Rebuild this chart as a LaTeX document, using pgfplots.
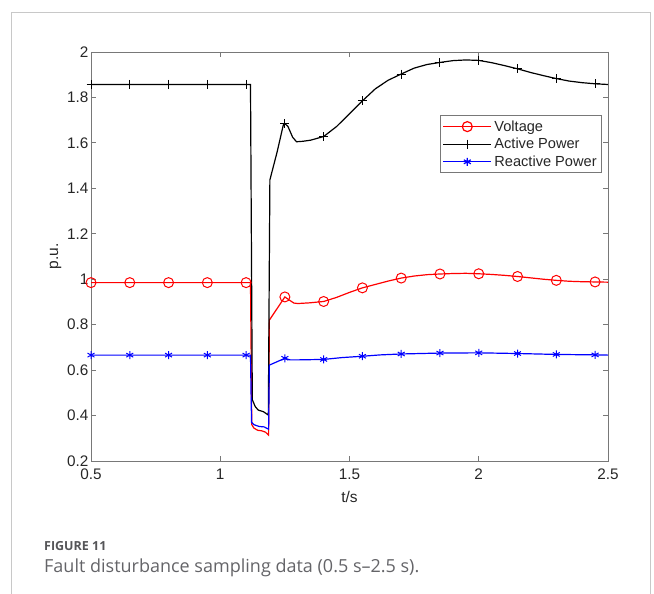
\documentclass[border=0pt]{standalone}
\usepackage{pgfplots}
\pgfplotsset{compat=1.18}
\usepackage{fontspec}
\setmainfont{Liberation Sans}
\newfontfamily\capfont{Open Sans}

\definecolor{axgray}{RGB}{120,120,120}
\definecolor{txtdark}{RGB}{38,38,38}
\definecolor{capgray}{RGB}{100,100,104}
\definecolor{framegray}{RGB}{200,200,200}

% Active power (p.u.), continuous trace
\pgfplotstableread{
t p
0.5 1.857
0.95 1.857
1.117 1.857
1.124 0.470
1.135 0.440
1.147 0.424
1.167 0.417
1.186 0.402
1.192 1.437
1.22 1.560
1.244 1.679
1.25 1.685
1.262 1.672
1.28 1.625
1.295 1.605
1.32 1.607
1.35 1.612
1.4 1.628
1.45 1.672
1.5 1.728
1.55 1.785
1.6 1.838
1.65 1.876
1.7 1.903
1.75 1.929
1.8 1.945
1.85 1.954
1.9 1.962
1.95 1.965
2.0 1.963
2.05 1.953
2.1 1.940
2.15 1.926
2.2 1.910
2.25 1.896
2.3 1.883
2.35 1.872
2.4 1.865
2.45 1.860
2.5 1.857
}\activeline

% Voltage (p.u.), continuous trace
\pgfplotstableread{
t v
0.5 0.985
1.117 0.985
1.122 0.360
1.13 0.345
1.145 0.335
1.16 0.333
1.175 0.327
1.187 0.314
1.19 0.820
1.25 0.922
1.265 0.910
1.285 0.895
1.3 0.893
1.345 0.896
1.4 0.902
1.45 0.920
1.5 0.942
1.55 0.962
1.6 0.977
1.65 0.992
1.7 1.005
1.75 1.014
1.8 1.020
1.85 1.023
1.9 1.025
1.95 1.026
2.0 1.024
2.05 1.021
2.1 1.017
2.15 1.012
2.2 1.006
2.25 1.000
2.3 0.995
2.35 0.991
2.4 0.989
2.45 0.988
2.5 0.987
}\voltline

% Reactive power (p.u.), continuous trace
\pgfplotstableread{
t q
0.5 0.666
1.117 0.666
1.121 0.370
1.13 0.360
1.15 0.352
1.17 0.350
1.187 0.340
1.19 0.622
1.25 0.652
1.27 0.645
1.3 0.645
1.35 0.646
1.4 0.647
1.47 0.655
1.55 0.661
1.62 0.667
1.7 0.671
1.85 0.675
2.0 0.676
2.15 0.673
2.3 0.669
2.45 0.667
2.5 0.666
}\reactline

% Sampled points (every 0.15 s)
\pgfplotstableread{
t v p q
0.5  0.985 1.857 0.666
0.65 0.985 1.857 0.666
0.8  0.985 1.857 0.666
0.95 0.985 1.857 0.666
1.1  0.985 1.857 0.666
1.25 0.922 1.685 0.652
1.4  0.902 1.628 0.647
1.55 0.962 1.785 0.661
1.7  1.005 1.903 0.671
1.85 1.023 1.954 0.675
2.0  1.024 1.963 0.676
2.15 1.012 1.926 0.673
2.3  0.995 1.883 0.669
2.45 0.988 1.860 0.667
}\samples

\begin{document}
\begin{tikzpicture}[x=1pt,y=1pt]
\useasboundingbox (0,0) rectangle (654,594);
\draw[framegray, line width=1pt] (11,0) -- (11,581) -- (650,581) -- (650,0);

\begin{axis}[
  at={(91pt,133pt)}, anchor=south west,
  scale only axis, width=517pt, height=409pt,
  xmin=0.5, xmax=2.5, ymin=0.2, ymax=2,
  xtick={0.5,1,1.5,2,2.5},
  ytick={0.2,0.4,...,2.01},
  tick align=inside, tickpos=both,
  major tick length=5pt,
  axis line style={axgray, line width=0.8pt},
  every tick/.style={axgray, line width=0.8pt},
  /pgf/number format/assume math mode=true,
  tick label style={font=\fontsize{15.3}{17}\selectfont, text=txtdark},
  xticklabel style={yshift=-4pt},
  yticklabel style={xshift=1pt},
  label style={font=\fontsize{15.5}{17}\selectfont, text=txtdark},
  xlabel={t/s}, ylabel={p.u.},
  xlabel style={yshift=-5pt},
  ylabel style={yshift=-1pt},
  legend style={at={(0.9885,0.8455)}, anchor=north east,
    draw=axgray, line width=0.8pt, fill=white,
    font=\fontsize{14.6}{17}\selectfont, text=txtdark,
    inner xsep=2.5pt, inner ysep=3pt, row sep=1.5pt,
    nodes={inner xsep=2.5pt},
    cells={anchor=west}},
  legend image code/.code={
    \draw[#1] (0pt,0pt) -- (48pt,0pt);
    \draw[#1, solid] plot coordinates {(24pt,0pt)};
  },
  clip=false,
]
\addplot[red, line width=1.2pt, forget plot] table[x=t,y=v] {\voltline};
\addplot[black, line width=1.2pt, forget plot] table[x=t,y=p] {\activeline};
\addplot[blue, line width=1.2pt, forget plot] table[x=t,y=q] {\reactline};

\addplot[red, only marks, mark=o, mark size=5pt, line width=1pt, forget plot] table[x=t,y=v] {\samples};
\addplot[black, only marks, mark=+, mark size=4.5pt, line width=1pt, forget plot] table[x=t,y=p] {\samples};
\addplot[blue, only marks, mark=asterisk, mark size=4pt, line width=1pt, forget plot] table[x=t,y=q] {\samples};

\addlegendimage{red, line width=1.2pt, mark=o, mark size=5pt}
\addlegendentry{Voltage}
\addlegendimage{black, line width=1.2pt, mark=+, mark size=4.5pt}
\addlegendentry{Active Power}
\addlegendimage{blue, line width=1.2pt, mark=asterisk, mark size=4pt}
\addlegendentry{Reactive Power}
\end{axis}

\node[anchor=base west, inner sep=0pt, text=capgray!85!black,
  font=\capfont\bfseries\fontsize{12.5}{14}\selectfont] at (44,43) {FIGURE 11};
\node[anchor=base west, inner sep=0pt, text=capgray,
  font=\capfont\fontsize{18}{20}\selectfont] at (44,21)
  {Fault disturbance sampling data (0.5 s–2.5 s).};
\end{tikzpicture}
\end{document}
